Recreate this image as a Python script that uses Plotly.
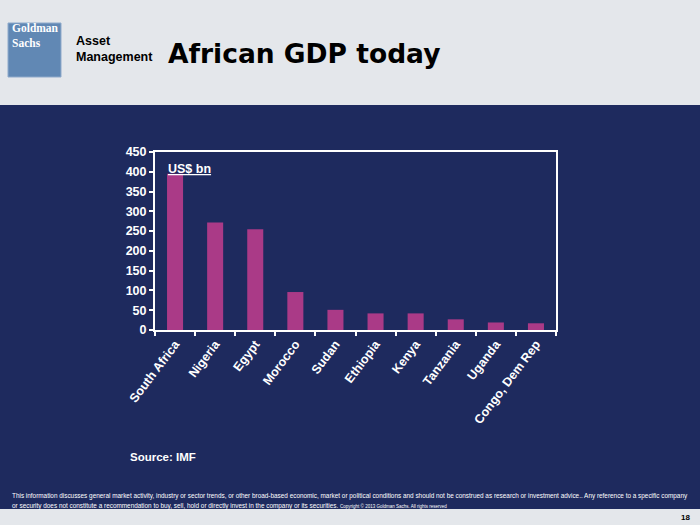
import plotly.graph_objects as go

countries = ["South Africa", "Nigeria", "Egypt", "Morocco", "Sudan",
             "Ethiopia", "Kenya", "Tanzania", "Uganda", "Congo, Dem Rep"]
gdp_usd_bn = [395, 272, 255, 96, 51, 42, 42, 27, 19, 17]
y_ticks = [0, 50, 100, 150, 200, 250, 300, 350, 400, 450]

NAVY = "#1E2A5E"
LIGHT = "#E4E7EB"
BAR = "#AA3A87"

# plot area in pixels
L, R, T, B = 155, 556, 152, 330
W, H = 700, 525


def px(xp):
    return (xp - L) / (R - L)


def py(yp):
    return (B - yp) / (B - T)


fig = go.Figure(go.Bar(x=countries, y=gdp_usd_bn, marker=dict(color=BAR, line=dict(width=0)), width=0.4))

shapes = [
    dict(type="rect", xref="paper", yref="paper", x0=px(0), x1=px(W), y0=py(0), y1=py(105),
         fillcolor=LIGHT, line=dict(width=0), layer="below"),
    dict(type="rect", xref="paper", yref="paper", x0=px(0), x1=px(W), y0=py(509), y1=py(H),
         fillcolor=LIGHT, line=dict(width=0), layer="below"),
    dict(type="rect", xref="paper", yref="paper", x0=px(8), x1=px(61), y0=py(23), y1=py(77),
         fillcolor="#6188B4", line=dict(color="#8FAACB", width=1)),
]

ann = []


def add(text, x, y, size, color, xanchor="left", yanchor="middle", family="Liberation Sans", **kw):
    ann.append(dict(text=text, x=px(x), y=py(y), xref="paper", yref="paper", showarrow=False,
                    xanchor=xanchor, yanchor=yanchor,
                    font=dict(size=size, color=color, family=family, **kw.pop("font", {})), **kw))


add("<b>Goldman<br>Sachs</b>", 10, 35, 11.5, "white", family="Liberation Serif", align="left")
add("<b>Asset<br>Management</b>", 74, 49, 12.5, "black", align="left")
add("<b>African GDP today</b>", 166, 53, 26.5, "black", family="DejaVu Sans")
add("<b>US$ bn</b>", 166, 169, 12.5, "white", font=dict(lineposition="under"))
add("<b>Source: IMF</b>", 128, 457, 11.5, "white")
add("This information discusses general market activity, industry or sector trends, or other broad-based economic, "
    "market or political conditions and should not be construed as research or investment advice.. Any reference to a specific company",
    10, 496, 6.4, "white")
add("or security does not constitute a recommendation to buy, sell, hold or directly invest in the company or its securities. "
    "<span style='font-size:4.5px'>Copyright © 2013 Goldman Sachs. All rights reserved</span>",
    10, 506, 6.4, "white")
add("<b>18</b>", 692, 517, 8, "black", xanchor="right")

fig.update_layout(
    width=W, height=H,
    margin=dict(l=L, r=W - R, t=T, b=H - B, pad=0),
    paper_bgcolor=NAVY, plot_bgcolor=NAVY,
    showlegend=False,
    shapes=shapes, annotations=ann,
    font=dict(family="Liberation Sans", color="white"),
)
fig.update_xaxes(
    showline=True, linecolor="white", linewidth=2, mirror=True,
    ticks="outside", tickson="boundaries", ticklen=4, tickcolor="white", tickwidth=2,
    tickangle=-53, tickfont=dict(size=12.5, color="white", family="Liberation Sans", weight="bold"),
    showgrid=False, zeroline=False,
)
fig.update_yaxes(
    range=[0, 450], tickvals=y_ticks,
    showline=True, linecolor="white", linewidth=2, mirror=True,
    ticks="outside", ticklen=4, tickcolor="white", tickwidth=2,
    tickfont=dict(size=12.5, color="white", family="Liberation Sans", weight="bold"),
    showgrid=False, zeroline=False,
)

fig.write_html("out.html", config={"displayModeBar": False},
               post_script="document.body.style.margin='0';document.body.style.overflow='hidden';")
